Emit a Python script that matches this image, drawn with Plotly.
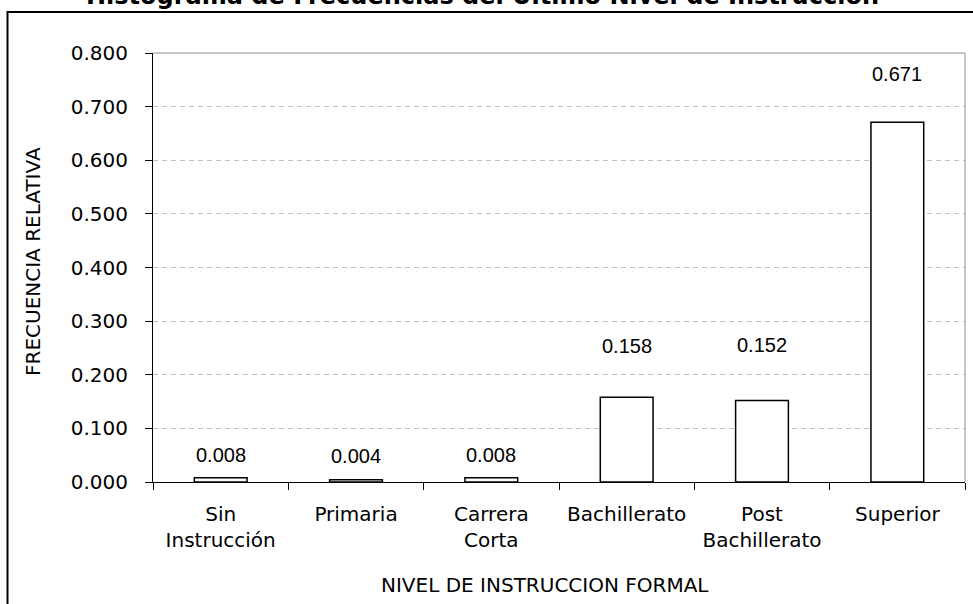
import plotly.graph_objs as go

niveles = ['Sin<br>Instrucción', 'Primaria', 'Carrera<br>Corta',
           'Bachillerato', 'Post<br>Bachillerato', 'Superior']
frecuencia = [0.008, 0.004, 0.008, 0.158, 0.152, 0.671]
y_ticks = [0.0, 0.1, 0.2, 0.3, 0.4, 0.5, 0.6, 0.7, 0.8]

titulo = 'Histograma de Frecuencias del Último Nivel de Instrucción'
titulo_x = 'NIVEL DE INSTRUCCION FORMAL'
titulo_y = 'FRECUENCIA RELATIVA'

# pixel gap between bar top and label box (labels were hand placed)
label_shift = [10, 11, 10, 38, 42, 35]

W, H = 973, 604
L, R, T, B = 153, 8, 53, 122
pw = W - L - R
ph = H - T - B


def px_x(x):
    return (x - L) / pw


def px_y(y):
    return (H - B - y) / ph


fig = go.Figure()
fig.add_trace(go.Bar(x=niveles,
                     y=frecuencia,
                     width=0.39,
                     marker={'color': 'white',
                             'line': {'color': 'black', 'width': 1.5}},
                     hoverinfo='x+y'))

annotations = []
for cat, val, sh in zip(niveles, frecuencia, label_shift):
    annotations.append(dict(x=cat, y=val, xref='x', yref='y',
                            text='%.3f' % val, showarrow=False,
                            yanchor='bottom', yshift=sh,
                            font={'family': 'Liberation Sans', 'size': 20, 'color': 'black'}))

annotations.append(dict(x=px_x(482.5), y=px_y(12), xref='paper', yref='paper',
                        text='<b>%s</b>' % titulo, showarrow=False,
                        xanchor='center', yanchor='bottom',
                        font={'family': 'DejaVu Sans', 'size': 24, 'color': 'black'}))
annotations.append(dict(x=px_x(545), y=px_y(599), xref='paper', yref='paper',
                        text=titulo_x, showarrow=False,
                        xanchor='center', yanchor='bottom',
                        font={'family': 'DejaVu Sans', 'size': 20, 'color': 'black'}))
annotations.append(dict(x=px_x(33), y=px_y(261), xref='paper', yref='paper',
                        text=titulo_y, showarrow=False, textangle=-90,
                        xanchor='center', yanchor='middle',
                        font={'family': 'DejaVu Sans', 'size': 20, 'color': 'black'}))

shapes = [
    # outer chart frame
    dict(type='rect', xref='paper', yref='paper',
         x0=px_x(7.5), x1=px_x(980), y0=px_y(625), y1=px_y(12),
         line={'color': 'black', 'width': 2}, layer='above'),
    # gray top and right border of plot area
    dict(type='line', xref='paper', yref='paper', x0=0, x1=1, y0=1, y1=1,
         line={'color': '#909090', 'width': 1}, layer='above'),
    dict(type='line', xref='paper', yref='paper', x0=1, x1=1, y0=0, y1=1,
         line={'color': '#909090', 'width': 1}, layer='above'),
]

fig.update_layout(width=W, height=H,
                  margin={'l': L, 'r': R, 't': T, 'b': B, 'pad': 0},
                  paper_bgcolor='white',
                  plot_bgcolor='white',
                  showlegend=False,
                  font={'family': 'DejaVu Sans', 'size': 20, 'color': 'black'},
                  annotations=annotations,
                  shapes=shapes)

fig.update_xaxes(type='category',
                 tickson='boundaries',
                 ticks='outside', ticklen=7, tickcolor='black', tickwidth=1,
                 ticklabelstandoff=14,
                 showline=True, linecolor='black', linewidth=1,
                 showgrid=False,
                 tickfont={'family': 'DejaVu Sans', 'size': 20, 'color': 'black'},
                 fixedrange=True)

fig.update_yaxes(range=[0, 0.8],
                 tickvals=y_ticks,
                 tickformat='.3f',
                 ticks='outside', ticklen=7, tickcolor='black', tickwidth=1,
                 ticklabelstandoff=13,
                 showline=True, linecolor='black', linewidth=1,
                 showgrid=True, gridcolor='#c0c0c0', gridwidth=1, griddash='5px,4px',
                 zeroline=False,
                 tickfont={'family': 'DejaVu Sans', 'size': 20, 'color': 'black'},
                 fixedrange=True)

# page body has a default margin that would shift the whole chart
fig.write_html('out.html',
               config={'displayModeBar': False},
               post_script="document.body.style.margin='0px';")
